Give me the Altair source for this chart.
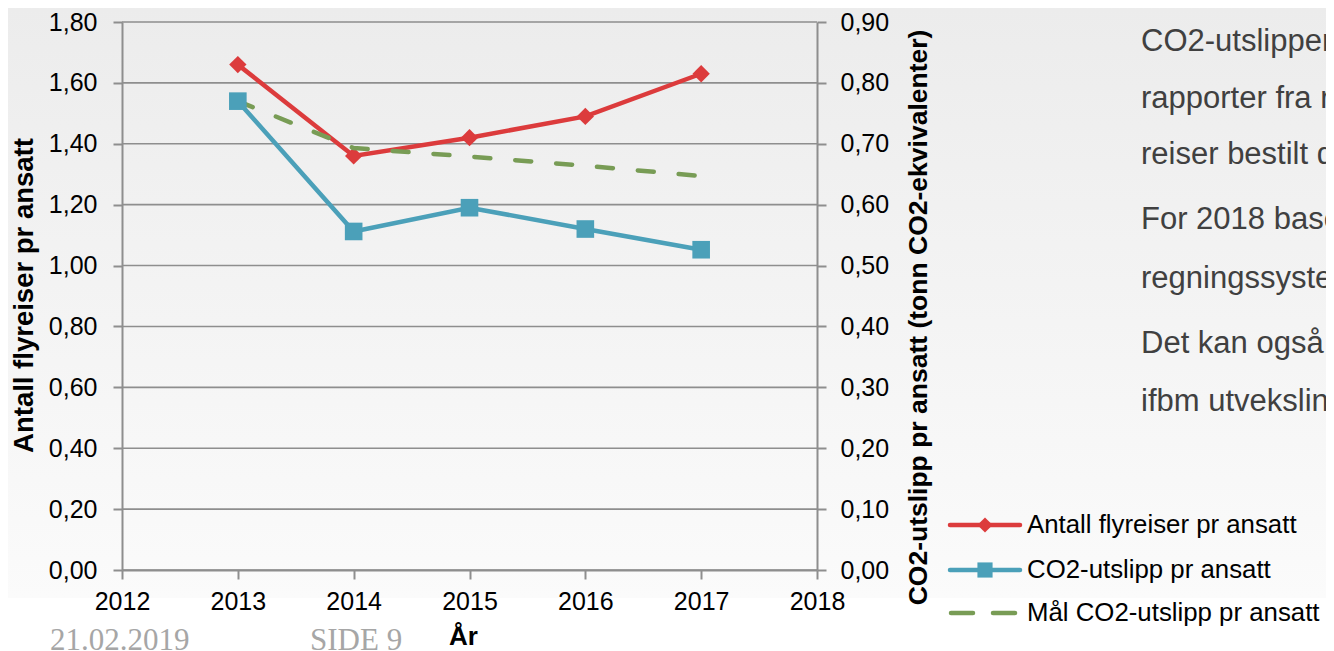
import altair as alt
import pandas as pd

# ---- data ----
years = [2013, 2014, 2015, 2016, 2017]
flyreiser = [1.66, 1.36, 1.42, 1.49, 1.63]          # left axis
co2 = [0.770, 0.556, 0.595, 0.560, 0.526]           # right axis
maal_co2 = [0.770, 0.693, 0.679, 0.664, 0.647]      # right axis (target)

x_ticks = [2012, 2013, 2014, 2015, 2016, 2017, 2018]
left_ticks = [0.0, 0.2, 0.4, 0.6, 0.8, 1.0, 1.2, 1.4, 1.6, 1.8]
right_ticks = [0.0, 0.1, 0.2, 0.3, 0.4, 0.5, 0.6, 0.7, 0.8, 0.9]

series_names = ["Antall flyreiser pr ansatt", "CO2-utslipp pr ansatt", "Mål CO2-utslipp pr ansatt"]
paragraph_lines = ["CO2-utslippen", "rapporter fra r", "reiser bestilt d", "For 2018 base",
                   "regningssyste", "Det kan også", "ifbm utveksling"]
footer_date = "21.02.2019"
footer_page = "SIDE 9"

RED = "#DC3B3C"
BLUE = "#4BA0B9"
GREEN = "#789C55"
GRID = "#8E8E8E"
FONT = "Liberation Sans"

W, H = 695, 548

df_red = pd.DataFrame({"År": years, "v": flyreiser})
df_blue = pd.DataFrame({"År": years, "v": co2})
df_green = pd.DataFrame({"År": years, "v": maal_co2})
df_grid = pd.DataFrame({"v": left_ticks})
one = pd.DataFrame({"k": [0]})

comma_fmt = "replace(format(datum.value, '.2f'), '.', ',')"

x_enc = alt.X("År:Q",
              scale=alt.Scale(domain=[2012, 2018], nice=False),
              axis=alt.Axis(values=x_ticks, format="d", title="År", grid=False, zindex=2,
                            labelFlush=False,
                            titleX=341, titleY=66, titleBaseline="middle",
                            titleFontSize=26, titleFontWeight="bold",
                            labelPadding=10))

# background gradient panel
bg = alt.Chart(one).mark_rect(
    fill=alt.LinearGradient(gradient="linear",
                            stops=[alt.GradientStop(color="#ececec", offset=0),
                                   alt.GradientStop(color="#fbfbfb", offset=1)],
                            x1=0, x2=0, y1=0, y2=1)
).encode(x=alt.value(-114), x2=alt.value(1204), y=alt.value(-14), y2=alt.value(576))

# left axis layer
left_scale = alt.Scale(domain=[0, 1.8], nice=False)
left_axis = alt.Axis(values=left_ticks, labelExpr=comma_fmt, orient="left", zindex=2,
                     title="Antall flyreiser pr ansatt", titleAngle=270, titleFontSize=27.5,
                     titleX=-98, titleY=273, titleBaseline="middle", titleAlign="center",
                     labelPadding=16, grid=False)
grid = alt.Chart(df_grid).mark_rule(color=GRID, strokeWidth=1.6).encode(
    y=alt.Y("v:Q", scale=left_scale, axis=left_axis))
red_line = alt.Chart(df_red).mark_line(color=RED, strokeWidth=4.5).encode(
    x=x_enc, y=alt.Y("v:Q"))
red_pts = alt.Chart(df_red).mark_point(shape="diamond", filled=True, opacity=1, color=RED, size=300).encode(
    x="År:Q", y="v:Q")
left_layer = alt.layer(grid, red_line, red_pts)

# right axis layer
right_axis = alt.Axis(values=right_ticks, labelExpr=comma_fmt, orient="right", zindex=2,
                      title="CO2-utslipp pr ansatt (tonn CO2-ekvivalenter)", titleAngle=270,
                      titleFontSize=26.5,
                      titleX=101, titleY=295, titleBaseline="middle", titleAlign="center",
                      labelPadding=14, grid=False)
green_line = alt.Chart(df_green).mark_line(color=GREEN, strokeWidth=4.5, strokeDash=[16, 25],
                                           strokeCap="round").encode(
    x="År:Q", y=alt.Y("v:Q", scale=alt.Scale(domain=[0, 0.9], nice=False), axis=right_axis))
blue_line = alt.Chart(df_blue).mark_line(color=BLUE, strokeWidth=4.5).encode(x="År:Q", y="v:Q")
blue_pts = alt.Chart(df_blue).mark_point(shape="square", filled=True, opacity=1, color=BLUE, size=310).encode(
    x="År:Q", y="v:Q")
right_layer = alt.layer(green_line, blue_line, blue_pts)

# manual legend
leg_layers = []
leg_y = [503, 548, 591]
leg_colors = [RED, BLUE, GREEN]
for i, name in enumerate(series_names):
    if i < 2:
        leg_layers.append(alt.Chart(one).mark_rule(color=leg_colors[i], strokeWidth=4.5, strokeCap="round").encode(
            x=alt.value(828), x2=alt.value(898), y=alt.value(leg_y[i])))
    else:
        leg_layers.append(alt.Chart(one).mark_rule(color=leg_colors[i], strokeWidth=4.5, strokeCap="round",
                                                   strokeDash=[22, 20]).encode(
            x=alt.value(829), x2=alt.value(899), y=alt.value(leg_y[i])))
    leg_layers.append(alt.Chart(one).mark_text(text=name, align="left", baseline="middle", fontSize=25.8,
                                               font=FONT, color="#000000").encode(
        x=alt.value(905), y=alt.value(leg_y[i])))
leg_layers.append(alt.Chart(one).mark_point(shape="diamond", filled=True, opacity=1, color=RED, size=230).encode(
    x=alt.value(863), y=alt.value(leg_y[0])))
leg_layers.append(alt.Chart(one).mark_point(shape="square", filled=True, opacity=1, color=BLUE, size=230).encode(
    x=alt.value(863), y=alt.value(leg_y[1])))

# paragraph text on the right (baselines)
para_y = [29, 86, 142, 207, 266, 331, 389]
para_layers = [
    alt.Chart(one).mark_text(text=t, align="left", baseline="alphabetic", fontSize=31, font=FONT,
                             color="#404040").encode(x=alt.value(1019), y=alt.value(py))
    for t, py in zip(paragraph_lines, para_y)
]

# footer
footer = [
    alt.Chart(one).mark_text(text=footer_date, align="left", baseline="alphabetic", fontSize=31,
                             font="Liberation Serif", color="#A6A6A6").encode(x=alt.value(-72), y=alt.value(628)),
    alt.Chart(one).mark_text(text=footer_page, align="left", baseline="alphabetic", fontSize=31,
                             font="Liberation Serif", color="#A6A6A6").encode(x=alt.value(188), y=alt.value(628)),
]

chart = alt.layer(bg, left_layer, right_layer, *leg_layers, *para_layers, *footer).resolve_scale(
    y="independent"
).properties(
    width=W, height=H,
    autosize=alt.AutoSizeParams(type="none"),
    padding={"left": 114, "top": 14, "right": 509, "bottom": 83},
    background="#ffffff",
).configure_view(stroke=None).configure_axis(
    labelFont=FONT, labelFontSize=25, labelColor="#000000",
    titleFont=FONT, titleFontSize=26, titleFontWeight="bold", titleColor="#000000",
    domainColor=GRID, domainWidth=2, tickColor=GRID, tickWidth=2, tickSize=9,
)

chart.save("out.html", embed_options={"renderer": "svg", "actions": False})
